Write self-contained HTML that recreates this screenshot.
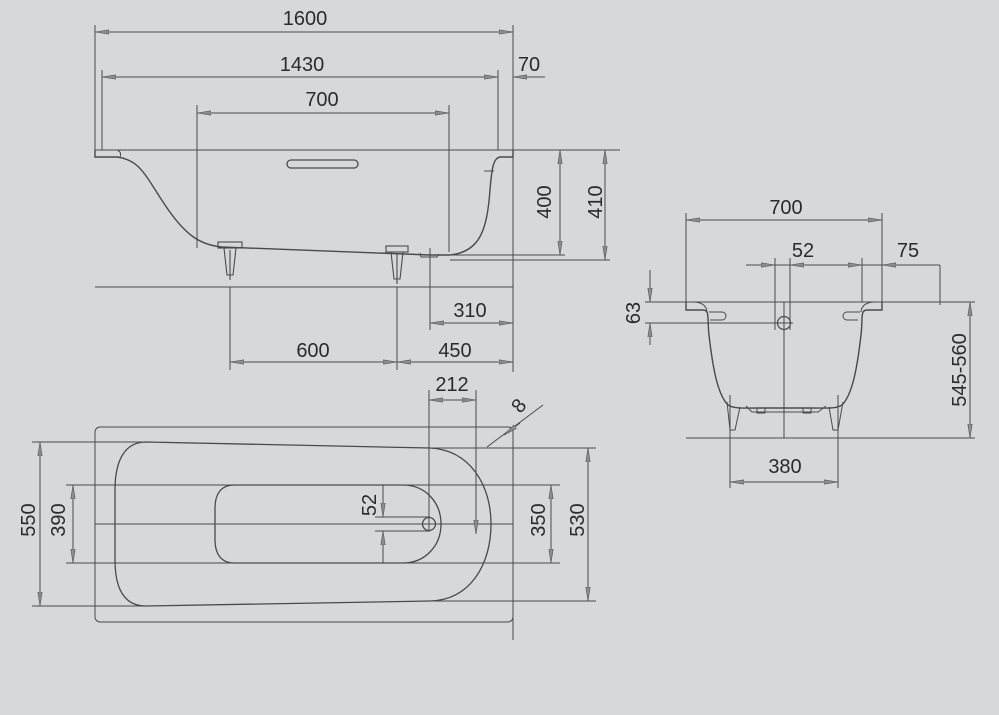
<!DOCTYPE html>
<html><head><meta charset="utf-8"><style>
html,body{margin:0;padding:0;background:#d6d8da;}
svg{display:block;}
text{font-family:"Liberation Sans",sans-serif;font-size:20px;fill:#2b2b2b;}
</style></head><body>
<svg width="999" height="715" viewBox="0 0 999 715" xmlns="http://www.w3.org/2000/svg">
<defs>
<marker id="a" viewBox="0 0 14 6" refX="14" refY="3" markerWidth="14" markerHeight="6" markerUnits="userSpaceOnUse" orient="auto-start-reverse">
<path d="M14,3 L0,0.8 L0,5.2 Z" fill="#8a8c8e" stroke="#555" stroke-width="0.6"/>
</marker>
</defs>
<rect width="999" height="715" fill="#d6d8da"/>
<g fill="none" stroke="#4a4a4a" stroke-width="1">
<!-- ===== Side elevation ===== -->
<line x1="95" y1="25" x2="95" y2="150"/>
<line x1="513" y1="25" x2="513" y2="372"/>
<line x1="102" y1="70" x2="102" y2="150"/>
<line x1="498" y1="70" x2="498" y2="150"/>
<line x1="197" y1="105" x2="197" y2="248"/>
<line x1="449" y1="105" x2="449" y2="252"/>
<line x1="95" y1="32" x2="513" y2="32" marker-start="url(#a)" marker-end="url(#a)"/>
<line x1="102" y1="77" x2="498" y2="77" marker-start="url(#a)" marker-end="url(#a)"/>
<line x1="513" y1="77" x2="545" y2="77"/>
<line x1="513" y1="77" x2="527" y2="77" marker-start="url(#a)"/>
<line x1="197" y1="113" x2="449" y2="113" marker-start="url(#a)" marker-end="url(#a)"/>
<line x1="95" y1="150" x2="620" y2="150"/>
<!-- tub profile -->
<path d="M95,150 L95,157 L117,157 C140,160 145,175 165,205 C185,235 200,245 222,247 L430,255 L440,255 L450,255 C480,252 487,230 490,190 C492,165 494,158 500,157 L513,157 L513,150" stroke-width="1.4"/>
<path d="M95,150 L117,150 Q122,152 120,157" stroke-width="1"/>
<path d="M420,253 L421,257 L437,257 L439,254" />
<rect x="287" y="160" width="71" height="8" rx="4" stroke-width="1.3"/>
<line x1="484" y1="171" x2="494" y2="171"/>
<!-- feet -->
<g stroke-width="1.1">
<rect x="218" y="242" width="24" height="6"/>
<path d="M224,248 L227,275 L233,275 L236,248"/>
<line x1="230" y1="250" x2="230" y2="280"/>
<rect x="386" y="246" width="22" height="6"/>
<path d="M391,252 L394,279 L400,279 L403,252"/>
<line x1="397" y1="254" x2="397" y2="284"/>
</g>
<line x1="430" y1="248" x2="430" y2="330"/>
<line x1="430" y1="255" x2="565" y2="255"/>
<line x1="450" y1="260" x2="610" y2="260"/>
<line x1="560" y1="150" x2="560" y2="255" marker-start="url(#a)" marker-end="url(#a)"/>
<line x1="605" y1="150" x2="605" y2="260" marker-start="url(#a)" marker-end="url(#a)"/>
<line x1="95" y1="287" x2="513" y2="287"/>
<line x1="230" y1="287" x2="230" y2="370"/>
<line x1="397" y1="287" x2="397" y2="370"/>
<line x1="430" y1="323" x2="513" y2="323" marker-start="url(#a)" marker-end="url(#a)"/>
<line x1="230" y1="362" x2="397" y2="362" marker-start="url(#a)" marker-end="url(#a)"/>
<line x1="397" y1="362" x2="513" y2="362" marker-start="url(#a)" marker-end="url(#a)"/>

<!-- ===== Plan view ===== -->
<rect x="95" y="427" width="418" height="195" rx="5"/>
<line x1="513" y1="600" x2="513" y2="640"/>
<path d="M146,442 L430,448 C470,450 491,485 491,524 C491,565 470,600 430,601 L146,606 C125,606 115,590 115,560 L115,490 C115,460 125,442 146,442 Z" stroke-width="1.3"/>
<path d="M234,485 L403,485 C425,485 441,502 441,524 C441,546 425,563 403,563 L234,563 C222,563 215,555 215,540 L215,508 C215,493 222,485 234,485 Z" stroke-width="1.3"/>
<circle cx="429" cy="524" r="6.5" stroke-width="1.3"/>
<line x1="32" y1="442" x2="146" y2="442"/>
<line x1="32" y1="606" x2="146" y2="606"/>
<line x1="430" y1="448" x2="596" y2="448"/>
<line x1="430" y1="601" x2="596" y2="601"/>
<line x1="66" y1="485" x2="560" y2="485"/>
<line x1="66" y1="563" x2="560" y2="563"/>
<line x1="95" y1="524" x2="513" y2="524"/>
<line x1="375" y1="517" x2="430" y2="517"/>
<line x1="375" y1="531" x2="430" y2="531"/>
<line x1="40" y1="442" x2="40" y2="606" marker-start="url(#a)" marker-end="url(#a)"/>
<line x1="73" y1="485" x2="73" y2="563" marker-start="url(#a)" marker-end="url(#a)"/>
<line x1="551" y1="485" x2="551" y2="563" marker-start="url(#a)" marker-end="url(#a)"/>
<line x1="588" y1="448" x2="588" y2="601" marker-start="url(#a)" marker-end="url(#a)"/>
<line x1="383" y1="485" x2="383" y2="517" marker-end="url(#a)"/>
<line x1="383" y1="531" x2="383" y2="563" marker-start="url(#a)"/>
<line x1="429" y1="390" x2="429" y2="530"/>
<line x1="476" y1="390" x2="476" y2="534"/>
<line x1="476" y1="510" x2="476" y2="534" marker-end="url(#a)"/>
<line x1="429" y1="400" x2="476" y2="400" marker-start="url(#a)" marker-end="url(#a)"/>
<line x1="487" y1="447" x2="543" y2="405"/>
<line x1="520" y1="423" x2="504" y2="435" marker-end="url(#a)"/>

<!-- ===== End view ===== -->
<line x1="686" y1="213" x2="686" y2="305"/>
<line x1="882" y1="213" x2="882" y2="305"/>
<line x1="686" y1="220" x2="882" y2="220" marker-start="url(#a)" marker-end="url(#a)"/>
<line x1="746" y1="265" x2="940" y2="265"/>
<line x1="760" y1="265" x2="775" y2="265" marker-end="url(#a)"/>
<line x1="790" y1="265" x2="805" y2="265" marker-start="url(#a)"/>
<line x1="845" y1="265" x2="862" y2="265" marker-end="url(#a)"/>
<line x1="882" y1="265" x2="900" y2="265" marker-start="url(#a)"/>
<line x1="775" y1="258" x2="775" y2="330"/>
<line x1="790" y1="258" x2="790" y2="330"/>
<line x1="862" y1="258" x2="862" y2="302"/>
<line x1="645" y1="302" x2="975" y2="302"/>
<line x1="645" y1="323" x2="793" y2="323"/>
<line x1="650" y1="270" x2="650" y2="302" marker-end="url(#a)"/>
<line x1="650" y1="323" x2="650" y2="345" marker-start="url(#a)"/>
<line x1="784" y1="302" x2="784" y2="438"/>
<circle cx="784" cy="323" r="6.5" stroke-width="1.2"/>
<path d="M686,302 L686,310 L703,310 C710,310 707,318 709,335 C713,370 718,395 728,405 C734,409 745,408 760,408 L810,408 C826,408 836,409 842,405 C852,395 857,370 861,335 C863,318 860,310 867,310 L882,310 L882,302" stroke-width="1.4"/>
<path d="M693,302 Q706,302 707,312"/>
<path d="M875,302 Q862,302 861,312"/>
<path d="M709,312 L722,312 A4,4 0 0 1 722,320 L710,320"/>
<path d="M860,312 L847,312 A4,4 0 0 0 847,320 L858,320"/>
<path d="M746,406 L752,412 L818,412 L826,406" />
<rect x="757" y="408" width="8" height="5"/>
<rect x="803" y="408" width="8" height="5"/>
<path d="M727,402 L730,430 L735,430 L740,407"/>
<path d="M843,402 L838,430 L833,430 L829,407"/>
<line x1="686" y1="438" x2="975" y2="438"/>
<line x1="970" y1="302" x2="970" y2="438" marker-start="url(#a)" marker-end="url(#a)"/>
<line x1="940" y1="265" x2="940" y2="305"/>
<line x1="730" y1="395" x2="730" y2="488"/>
<line x1="838" y1="395" x2="838" y2="488"/>
<line x1="730" y1="482" x2="838" y2="482" marker-start="url(#a)" marker-end="url(#a)"/>
</g>

<g>
<text x="305" y="25" text-anchor="middle">1600</text>
<text x="302" y="71" text-anchor="middle">1430</text>
<text x="529" y="71" text-anchor="middle">70</text>
<text x="322" y="106" text-anchor="middle">700</text>
<text transform="translate(551,202) rotate(-90)" text-anchor="middle">400</text>
<text transform="translate(602,202) rotate(-90)" text-anchor="middle">410</text>
<text x="470" y="317" text-anchor="middle">310</text>
<text x="313" y="357" text-anchor="middle">600</text>
<text x="455" y="357" text-anchor="middle">450</text>
<text x="452" y="391" text-anchor="middle">212</text>
<text transform="translate(524,410) rotate(-50)" text-anchor="middle">8</text>
<text transform="translate(35,520) rotate(-90)" text-anchor="middle">550</text>
<text transform="translate(65,520) rotate(-90)" text-anchor="middle">390</text>
<text transform="translate(376,505) rotate(-90)" text-anchor="middle">52</text>
<text transform="translate(545,520) rotate(-90)" text-anchor="middle">350</text>
<text transform="translate(584,520) rotate(-90)" text-anchor="middle">530</text>
<text x="786" y="214" text-anchor="middle">700</text>
<text x="803" y="257" text-anchor="middle">52</text>
<text x="908" y="257" text-anchor="middle">75</text>
<text transform="translate(640,313) rotate(-90)" text-anchor="middle">63</text>
<text transform="translate(966,370) rotate(-90)" text-anchor="middle">545-560</text>
<text x="785" y="473" text-anchor="middle">380</text>
</g>
</svg>
</body></html>
